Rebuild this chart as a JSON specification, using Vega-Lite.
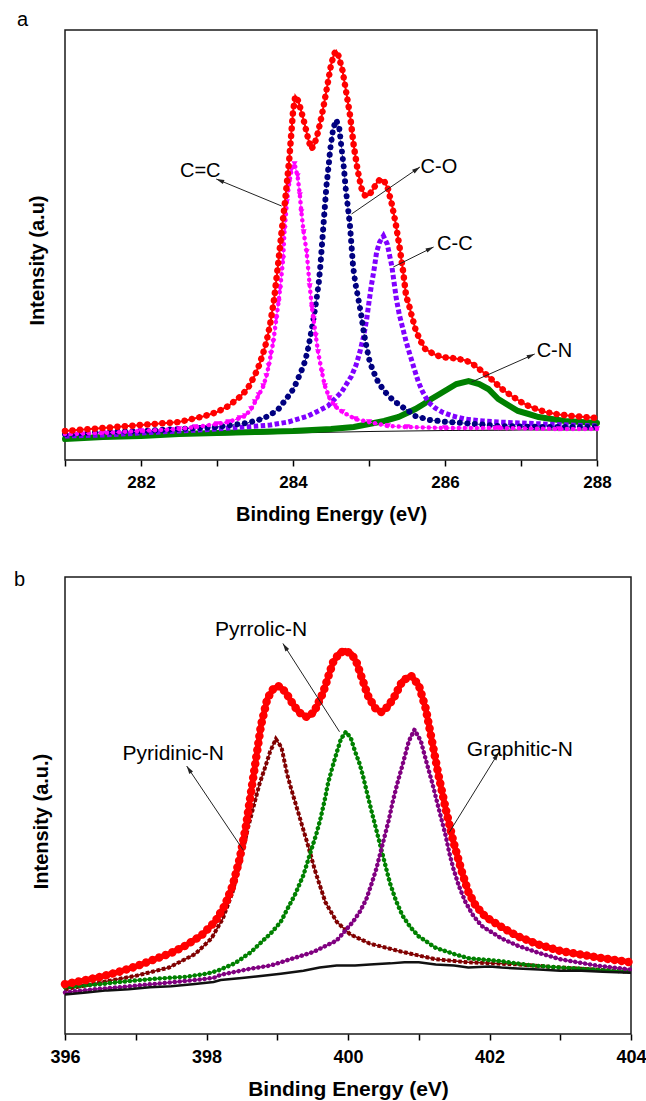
{
"$schema":"https://vega.github.io/schema/vega-lite/v6.json",
"background":"white",
"padding":{"left":13,"top":9,"right":5,"bottom":0},
"spacing":43,
"config":{"view":{"stroke":"#1a1a1a","strokeWidth":1.5},"axis":{"grid":false},"font":"Liberation Sans"},
"datasets":{
"A":[
{"s":"base","x":281,"y":23},{"s":"base","x":282,"y":24},{"s":"base","x":283,"y":25},{"s":"base","x":284,"y":27},{"s":"base","x":285,"y":28.5},{"s":"base","x":286,"y":29.5},{"s":"base","x":287,"y":30},{"s":"base","x":288,"y":30},
{"s":"CN","x":281,"y":21},{"s":"CN","x":281.5,"y":23},{"s":"CN","x":282,"y":24},{"s":"CN","x":282.5,"y":26},{"s":"CN","x":283,"y":27},{"s":"CN","x":283.5,"y":28},{"s":"CN","x":284,"y":29},{"s":"CN","x":284.5,"y":31},{"s":"CN","x":284.8,"y":33},{"s":"CN","x":285,"y":36},{"s":"CN","x":285.2,"y":39},{"s":"CN","x":285.39,"y":43},{"s":"CN","x":285.5,"y":47},{"s":"CN","x":285.61,"y":51},{"s":"CN","x":285.72,"y":56},{"s":"CN","x":285.82,"y":61},{"s":"CN","x":285.93,"y":66},{"s":"CN","x":286.04,"y":71},{"s":"CN","x":286.15,"y":76},{"s":"CN","x":286.31,"y":79},{"s":"CN","x":286.45,"y":76},{"s":"CN","x":286.57,"y":71},{"s":"CN","x":286.7,"y":61},{"s":"CN","x":286.85,"y":54},{"s":"CN","x":286.96,"y":49},{"s":"CN","x":287.1,"y":46},{"s":"CN","x":287.23,"y":43},{"s":"CN","x":287.58,"y":39},{"s":"CN","x":288,"y":37},
{"s":"CC","x":281,"y":24},{"s":"CC","x":281.5,"y":25},{"s":"CC","x":282,"y":27},{"s":"CC","x":282.5,"y":29},{"s":"CC","x":283,"y":31},{"s":"CC","x":283.37,"y":33},{"s":"CC","x":283.7,"y":35},{"s":"CC","x":283.94,"y":38},{"s":"CC","x":284.2,"y":44},{"s":"CC","x":284.46,"y":54},{"s":"CC","x":284.64,"y":68},{"s":"CC","x":284.77,"y":84},{"s":"CC","x":284.83,"y":95},{"s":"CC","x":284.88,"y":108},{"s":"CC","x":284.93,"y":124},{"s":"CC","x":284.97,"y":141},{"s":"CC","x":285,"y":158},{"s":"CC","x":285.03,"y":174},{"s":"CC","x":285.07,"y":192},{"s":"CC","x":285.1,"y":208},{"s":"CC","x":285.14,"y":218},{"s":"CC","x":285.19,"y":224},{"s":"CC","x":285.24,"y":216},{"s":"CC","x":285.3,"y":194},{"s":"CC","x":285.36,"y":161},{"s":"CC","x":285.4,"y":145},{"s":"CC","x":285.45,"y":130},{"s":"CC","x":285.49,"y":118},{"s":"CC","x":285.52,"y":110},{"s":"CC","x":285.56,"y":100},{"s":"CC","x":285.6,"y":90},{"s":"CC","x":285.65,"y":78},{"s":"CC","x":285.7,"y":69},{"s":"CC","x":285.78,"y":58},{"s":"CC","x":285.87,"y":52},{"s":"CC","x":285.96,"y":48},{"s":"CC","x":286.1,"y":44},{"s":"CC","x":286.26,"y":41},{"s":"CC","x":286.5,"y":39},{"s":"CC","x":286.7,"y":38},{"s":"CC","x":287.3,"y":36},{"s":"CC","x":288,"y":34},
{"s":"CO","x":281,"y":26},{"s":"CO","x":281.5,"y":28},{"s":"CO","x":282,"y":29},{"s":"CO","x":282.5,"y":31},{"s":"CO","x":283,"y":33},{"s":"CO","x":283.4,"y":37},{"s":"CO","x":283.59,"y":41},{"s":"CO","x":283.7,"y":45},{"s":"CO","x":283.81,"y":51},{"s":"CO","x":283.9,"y":60},{"s":"CO","x":283.98,"y":68},{"s":"CO","x":284.03,"y":75},{"s":"CO","x":284.07,"y":82},{"s":"CO","x":284.11,"y":89},{"s":"CO","x":284.16,"y":99},{"s":"CO","x":284.2,"y":112},{"s":"CO","x":284.24,"y":128},{"s":"CO","x":284.28,"y":146},{"s":"CO","x":284.31,"y":161},{"s":"CO","x":284.34,"y":178},{"s":"CO","x":284.36,"y":194},{"s":"CO","x":284.38,"y":214},{"s":"CO","x":284.4,"y":234},{"s":"CO","x":284.42,"y":254},{"s":"CO","x":284.44,"y":274},{"s":"CO","x":284.47,"y":295},{"s":"CO","x":284.49,"y":311},{"s":"CO","x":284.53,"y":332},{"s":"CO","x":284.57,"y":340},{"s":"CO","x":284.61,"y":331},{"s":"CO","x":284.64,"y":311},{"s":"CO","x":284.67,"y":292},{"s":"CO","x":284.69,"y":274},{"s":"CO","x":284.72,"y":254},{"s":"CO","x":284.75,"y":234},{"s":"CO","x":284.77,"y":214},{"s":"CO","x":284.79,"y":194},{"s":"CO","x":284.82,"y":177},{"s":"CO","x":284.86,"y":161},{"s":"CO","x":284.9,"y":144},{"s":"CO","x":284.93,"y":128},{"s":"CO","x":284.97,"y":112},{"s":"CO","x":285.01,"y":98},{"s":"CO","x":285.06,"y":88},{"s":"CO","x":285.12,"y":78},{"s":"CO","x":285.2,"y":69},{"s":"CO","x":285.3,"y":61},{"s":"CO","x":285.4,"y":55},{"s":"CO","x":285.52,"y":49},{"s":"CO","x":285.61,"y":44},{"s":"CO","x":285.8,"y":40},{"s":"CO","x":286.04,"y":38},{"s":"CO","x":286.4,"y":36},{"s":"CO","x":286.7,"y":34},{"s":"CO","x":287.3,"y":33},{"s":"CO","x":288,"y":33},
{"s":"CeC","x":281,"y":26},{"s":"CeC","x":281.5,"y":27},{"s":"CeC","x":282,"y":29},{"s":"CeC","x":282.5,"y":31},{"s":"CeC","x":282.71,"y":33},{"s":"CeC","x":283,"y":36},{"s":"CeC","x":283.15,"y":38},{"s":"CeC","x":283.3,"y":42},{"s":"CeC","x":283.37,"y":44},{"s":"CeC","x":283.45,"y":51},{"s":"CeC","x":283.5,"y":58},{"s":"CeC","x":283.55,"y":65},{"s":"CeC","x":283.61,"y":74},{"s":"CeC","x":283.65,"y":84},{"s":"CeC","x":283.68,"y":94},{"s":"CeC","x":283.71,"y":106},{"s":"CeC","x":283.74,"y":118},{"s":"CeC","x":283.78,"y":141},{"s":"CeC","x":283.81,"y":158},{"s":"CeC","x":283.83,"y":171},{"s":"CeC","x":283.87,"y":201},{"s":"CeC","x":283.89,"y":231},{"s":"CeC","x":283.92,"y":258},{"s":"CeC","x":283.95,"y":277},{"s":"CeC","x":283.98,"y":290},{"s":"CeC","x":284.02,"y":296},{"s":"CeC","x":284.06,"y":284},{"s":"CeC","x":284.09,"y":265},{"s":"CeC","x":284.11,"y":248},{"s":"CeC","x":284.14,"y":228},{"s":"CeC","x":284.18,"y":208},{"s":"CeC","x":284.22,"y":174},{"s":"CeC","x":284.25,"y":152},{"s":"CeC","x":284.27,"y":141},{"s":"CeC","x":284.3,"y":124},{"s":"CeC","x":284.33,"y":108},{"s":"CeC","x":284.38,"y":88},{"s":"CeC","x":284.42,"y":74},{"s":"CeC","x":284.48,"y":62},{"s":"CeC","x":284.55,"y":54},{"s":"CeC","x":284.65,"y":48},{"s":"CeC","x":284.82,"y":41},{"s":"CeC","x":285,"y":38},{"s":"CeC","x":285.25,"y":34},{"s":"CeC","x":285.5,"y":33},{"s":"CeC","x":286,"y":32},{"s":"CeC","x":286.7,"y":32},{"s":"CeC","x":287.5,"y":31},{"s":"CeC","x":288,"y":31},
{"s":"sum","x":281,"y":29},{"s":"sum","x":281.5,"y":32},{"s":"sum","x":282,"y":35},{"s":"sum","x":282.5,"y":38},{"s":"sum","x":282.84,"y":44},{"s":"sum","x":283,"y":48},{"s":"sum","x":283.15,"y":54},{"s":"sum","x":283.3,"y":63},{"s":"sum","x":283.4,"y":71},{"s":"sum","x":283.5,"y":85},{"s":"sum","x":283.55,"y":94},{"s":"sum","x":283.6,"y":105},{"s":"sum","x":283.65,"y":118},{"s":"sum","x":283.7,"y":136},{"s":"sum","x":283.75,"y":160},{"s":"sum","x":283.8,"y":193},{"s":"sum","x":283.85,"y":228},{"s":"sum","x":283.9,"y":262},{"s":"sum","x":283.95,"y":300},{"s":"sum","x":284,"y":348},{"s":"sum","x":284.03,"y":364},{"s":"sum","x":284.07,"y":359},{"s":"sum","x":284.1,"y":351},{"s":"sum","x":284.15,"y":337},{"s":"sum","x":284.2,"y":321},{"s":"sum","x":284.24,"y":311},{"s":"sum","x":284.28,"y":315},{"s":"sum","x":284.33,"y":328},{"s":"sum","x":284.38,"y":345},{"s":"sum","x":284.42,"y":361},{"s":"sum","x":284.46,"y":378},{"s":"sum","x":284.5,"y":395},{"s":"sum","x":284.54,"y":406},{"s":"sum","x":284.57,"y":409},{"s":"sum","x":284.6,"y":404},{"s":"sum","x":284.65,"y":390},{"s":"sum","x":284.7,"y":368},{"s":"sum","x":284.75,"y":345},{"s":"sum","x":284.8,"y":314},{"s":"sum","x":284.85,"y":290},{"s":"sum","x":284.9,"y":272},{"s":"sum","x":284.95,"y":264},{"s":"sum","x":285,"y":265},{"s":"sum","x":285.05,"y":270},{"s":"sum","x":285.1,"y":277},{"s":"sum","x":285.15,"y":281},{"s":"sum","x":285.2,"y":279},{"s":"sum","x":285.25,"y":271},{"s":"sum","x":285.3,"y":256},{"s":"sum","x":285.35,"y":237},{"s":"sum","x":285.4,"y":214},{"s":"sum","x":285.45,"y":188},{"s":"sum","x":285.49,"y":163},{"s":"sum","x":285.52,"y":157},{"s":"sum","x":285.56,"y":145},{"s":"sum","x":285.61,"y":131},{"s":"sum","x":285.67,"y":120},{"s":"sum","x":285.74,"y":111},{"s":"sum","x":285.85,"y":106},{"s":"sum","x":285.95,"y":103},{"s":"sum","x":286.1,"y":102},{"s":"sum","x":286.25,"y":100},{"s":"sum","x":286.35,"y":97},{"s":"sum","x":286.45,"y":91},{"s":"sum","x":286.55,"y":85},{"s":"sum","x":286.65,"y":78},{"s":"sum","x":286.75,"y":71},{"s":"sum","x":286.88,"y":64},{"s":"sum","x":287,"y":58},{"s":"sum","x":287.1,"y":54},{"s":"sum","x":287.2,"y":51},{"s":"sum","x":287.32,"y":48},{"s":"sum","x":287.5,"y":45.5},{"s":"sum","x":287.67,"y":44},{"s":"sum","x":288,"y":42}
],
"arrA":[
{"k":"C=C","x":283.85,"y":254,"x2":282.99,"y2":281},
{"k":"C-O","x":284.77,"y":246,"x2":285.67,"y2":293},
{"k":"C-C","x":285.32,"y":193,"x2":285.85,"y2":213},
{"k":"C-N","x":286.35,"y":78,"x2":287.18,"y2":106}
],
"headA":[
{"k":"C=C","x":282.99,"y":281},
{"k":"C-O","x":285.67,"y":293},
{"k":"C-C","x":285.85,"y":213},
{"k":"C-N","x":287.18,"y":106}
],
"labA":[
{"t":"C=C","x":282.78,"y":289},
{"t":"C-O","x":285.92,"y":293},
{"t":"C-C","x":286.13,"y":216},
{"t":"C-N","x":287.44,"y":109}
],
"B":[
{"s":"pyd","x":396,"y":43},{"s":"pyd","x":396.53,"y":50},{"s":"pyd","x":397,"y":56},{"s":"pyd","x":397.47,"y":64},{"s":"pyd","x":397.84,"y":77},{"s":"pyd","x":398.07,"y":92},{"s":"pyd","x":398.23,"y":111},{"s":"pyd","x":398.37,"y":137},{"s":"pyd","x":398.49,"y":169},{"s":"pyd","x":398.58,"y":197},{"s":"pyd","x":398.68,"y":223},{"s":"pyd","x":398.75,"y":241},{"s":"pyd","x":398.82,"y":255},{"s":"pyd","x":398.9,"y":272},{"s":"pyd","x":398.98,"y":284},{"s":"pyd","x":399.06,"y":276},{"s":"pyd","x":399.14,"y":250},{"s":"pyd","x":399.21,"y":233},{"s":"pyd","x":399.28,"y":217},{"s":"pyd","x":399.35,"y":201},{"s":"pyd","x":399.42,"y":185},{"s":"pyd","x":399.54,"y":156},{"s":"pyd","x":399.68,"y":127},{"s":"pyd","x":399.84,"y":108},{"s":"pyd","x":400.03,"y":96},{"s":"pyd","x":400.31,"y":87},{"s":"pyd","x":400.77,"y":79},{"s":"pyd","x":401.24,"y":72},{"s":"pyd","x":401.7,"y":69},{"s":"pyd","x":402.4,"y":67},{"s":"pyd","x":403,"y":64},{"s":"pyd","x":403.5,"y":62},{"s":"pyd","x":404,"y":60},
{"s":"pyr","x":396,"y":45},{"s":"pyr","x":396.5,"y":48},{"s":"pyr","x":396.77,"y":50},{"s":"pyr","x":397.23,"y":53},{"s":"pyr","x":397.7,"y":55},{"s":"pyr","x":398,"y":58},{"s":"pyr","x":398.16,"y":61},{"s":"pyr","x":398.4,"y":68},{"s":"pyr","x":398.63,"y":79},{"s":"pyr","x":398.8,"y":90},{"s":"pyr","x":398.91,"y":97},{"s":"pyr","x":399.05,"y":108},{"s":"pyr","x":399.14,"y":120},{"s":"pyr","x":399.25,"y":134},{"s":"pyr","x":399.37,"y":153},{"s":"pyr","x":399.47,"y":175},{"s":"pyr","x":399.55,"y":192},{"s":"pyr","x":399.61,"y":207},{"s":"pyr","x":399.67,"y":225},{"s":"pyr","x":399.72,"y":242},{"s":"pyr","x":399.78,"y":257},{"s":"pyr","x":399.84,"y":271},{"s":"pyr","x":399.9,"y":284},{"s":"pyr","x":399.97,"y":291},{"s":"pyr","x":400.04,"y":285},{"s":"pyr","x":400.1,"y":272},{"s":"pyr","x":400.16,"y":261},{"s":"pyr","x":400.21,"y":249},{"s":"pyr","x":400.28,"y":229},{"s":"pyr","x":400.35,"y":210},{"s":"pyr","x":400.41,"y":194},{"s":"pyr","x":400.47,"y":178},{"s":"pyr","x":400.53,"y":162},{"s":"pyr","x":400.59,"y":146},{"s":"pyr","x":400.68,"y":128},{"s":"pyr","x":400.77,"y":114},{"s":"pyr","x":400.88,"y":103},{"s":"pyr","x":401,"y":94},{"s":"pyr","x":401.24,"y":83},{"s":"pyr","x":401.5,"y":77},{"s":"pyr","x":401.7,"y":73},{"s":"pyr","x":402.17,"y":70},{"s":"pyr","x":402.6,"y":66},{"s":"pyr","x":403,"y":64},{"s":"pyr","x":403.5,"y":62},{"s":"pyr","x":404,"y":60},
{"s":"gra","x":396,"y":40},{"s":"gra","x":396.4,"y":43},{"s":"gra","x":396.77,"y":45},{"s":"gra","x":397.23,"y":48},{"s":"gra","x":397.7,"y":51},{"s":"gra","x":398.1,"y":54},{"s":"gra","x":398.2,"y":57},{"s":"gra","x":398.63,"y":63},{"s":"gra","x":398.91,"y":66},{"s":"gra","x":399.14,"y":71},{"s":"gra","x":399.51,"y":79},{"s":"gra","x":399.84,"y":90},{"s":"gra","x":400.07,"y":108},{"s":"gra","x":400.17,"y":118},{"s":"gra","x":400.26,"y":130},{"s":"gra","x":400.33,"y":144},{"s":"gra","x":400.4,"y":159},{"s":"gra","x":400.46,"y":175},{"s":"gra","x":400.52,"y":191},{"s":"gra","x":400.58,"y":207},{"s":"gra","x":400.63,"y":223},{"s":"gra","x":400.7,"y":242},{"s":"gra","x":400.77,"y":259},{"s":"gra","x":400.86,"y":282},{"s":"gra","x":400.94,"y":293},{"s":"gra","x":401.03,"y":282},{"s":"gra","x":401.12,"y":259},{"s":"gra","x":401.19,"y":242},{"s":"gra","x":401.26,"y":223},{"s":"gra","x":401.32,"y":207},{"s":"gra","x":401.38,"y":191},{"s":"gra","x":401.43,"y":175},{"s":"gra","x":401.49,"y":159},{"s":"gra","x":401.57,"y":142},{"s":"gra","x":401.66,"y":127},{"s":"gra","x":401.77,"y":114},{"s":"gra","x":401.89,"y":104},{"s":"gra","x":402.17,"y":92},{"s":"gra","x":402.4,"y":85},{"s":"gra","x":402.7,"y":78},{"s":"gra","x":403,"y":72},{"s":"gra","x":403.5,"y":66},{"s":"gra","x":404,"y":62},
{"s":"base","x":396,"y":38},{"s":"base","x":396.3,"y":40},{"s":"base","x":396.6,"y":42},{"s":"base","x":396.9,"y":43},{"s":"base","x":397.2,"y":45},{"s":"base","x":397.5,"y":46},{"s":"base","x":397.8,"y":48},{"s":"base","x":398.1,"y":50},{"s":"base","x":398.2,"y":52},{"s":"base","x":398.5,"y":54},{"s":"base","x":398.8,"y":56},{"s":"base","x":399.05,"y":58},{"s":"base","x":399.37,"y":61},{"s":"base","x":399.6,"y":64},{"s":"base","x":399.84,"y":66},{"s":"base","x":400.1,"y":66},{"s":"base","x":400.31,"y":67},{"s":"base","x":400.6,"y":68},{"s":"base","x":400.8,"y":69},{"s":"base","x":401,"y":69},{"s":"base","x":401.24,"y":67},{"s":"base","x":401.5,"y":66},{"s":"base","x":401.7,"y":64},{"s":"base","x":402,"y":65},{"s":"base","x":402.17,"y":64},{"s":"base","x":402.4,"y":63},{"s":"base","x":402.7,"y":62},{"s":"base","x":403,"y":61},{"s":"base","x":403.3,"y":61},{"s":"base","x":403.6,"y":60},{"s":"base","x":404,"y":59},
{"s":"sum","x":396,"y":48},{"s":"sum","x":396.3,"y":52},{"s":"sum","x":396.5,"y":55},{"s":"sum","x":396.77,"y":60},{"s":"sum","x":397,"y":65},{"s":"sum","x":397.23,"y":71},{"s":"sum","x":397.5,"y":78},{"s":"sum","x":397.7,"y":85},{"s":"sum","x":397.93,"y":95},{"s":"sum","x":398.12,"y":108},{"s":"sum","x":398.26,"y":124},{"s":"sum","x":398.37,"y":143},{"s":"sum","x":398.47,"y":169},{"s":"sum","x":398.56,"y":201},{"s":"sum","x":398.63,"y":233},{"s":"sum","x":398.7,"y":265},{"s":"sum","x":398.77,"y":297},{"s":"sum","x":398.86,"y":323},{"s":"sum","x":398.95,"y":333},{"s":"sum","x":399.03,"y":335},{"s":"sum","x":399.12,"y":329},{"s":"sum","x":399.19,"y":321},{"s":"sum","x":399.3,"y":310},{"s":"sum","x":399.42,"y":305},{"s":"sum","x":399.52,"y":310},{"s":"sum","x":399.65,"y":329},{"s":"sum","x":399.72,"y":344},{"s":"sum","x":399.79,"y":358},{"s":"sum","x":399.88,"y":367},{"s":"sum","x":399.96,"y":369},{"s":"sum","x":400.05,"y":366},{"s":"sum","x":400.12,"y":358},{"s":"sum","x":400.2,"y":342},{"s":"sum","x":400.28,"y":326},{"s":"sum","x":400.38,"y":314},{"s":"sum","x":400.47,"y":310},{"s":"sum","x":400.56,"y":315},{"s":"sum","x":400.65,"y":324},{"s":"sum","x":400.77,"y":340},{"s":"sum","x":400.89,"y":345},{"s":"sum","x":401,"y":336},{"s":"sum","x":401.1,"y":313},{"s":"sum","x":401.19,"y":281},{"s":"sum","x":401.28,"y":249},{"s":"sum","x":401.38,"y":217},{"s":"sum","x":401.49,"y":185},{"s":"sum","x":401.61,"y":156},{"s":"sum","x":401.7,"y":137},{"s":"sum","x":401.8,"y":124},{"s":"sum","x":401.94,"y":113},{"s":"sum","x":402.17,"y":103},{"s":"sum","x":402.4,"y":94},{"s":"sum","x":402.7,"y":86},{"s":"sum","x":403,"y":80},{"s":"sum","x":403.5,"y":74},{"s":"sum","x":404,"y":69}
],
"arrB":[
{"k":"Pyrrolic-N","x":399.88,"y":291,"x2":399.08,"y2":376},
{"k":"Pyridinic-N","x":398.52,"y":177,"x2":397.72,"y2":258},
{"k":"Graphitic-N","x":401.43,"y":194,"x2":402.13,"y2":271}
],
"headB":[
{"k":"Pyrrolic-N","x":399.08,"y":376},
{"k":"Pyridinic-N","x":397.72,"y":258},
{"k":"Graphitic-N","x":402.13,"y":271}
],
"labB":[
{"t":"Pyrrolic-N","x":398.77,"y":389},
{"t":"Pyridinic-N","x":397.53,"y":270},
{"t":"Graphitic-N","x":402.43,"y":273}
]
},
"vconcat":[
{
"width":532,"height":430,
"title":{"text":"a","anchor":"start","frame":"group","fontSize":20,"fontWeight":"normal","font":"Liberation Sans","color":"black","dx":-48,"dy":19,"offset":3,"baseline":"alphabetic"},
"encoding":{
"x":{"field":"x","type":"quantitative","scale":{"domain":[281,288],"nice":false,"zero":false},
"axis":{"title":"Binding Energy (eV)","values":[281,282,283,284,285,286,287,288],"labelExpr":"datum.value % 2 == 0 ? datum.label : ''","labelOverlap":false,"labelFlush":false,"domain":false,"tickSize":6,"tickWidth":1.5,"tickColor":"black","labelFont":"Liberation Sans","labelFontSize":17,"labelFontWeight":"bold","labelColor":"black","labelPadding":8,"titleFont":"Liberation Sans","titleFontSize":20,"titleFontWeight":"bold","titleColor":"black","titlePadding":14}},
"y":{"field":"y","type":"quantitative","scale":{"domain":[0,430],"nice":false,"zero":false},
"axis":{"title":"Intensity (a.u)","ticks":false,"labels":false,"domain":false,"titleFont":"Liberation Sans","titleFontSize":20,"titleFontWeight":"bold","titleColor":"black","titlePadding":18,"titleY":230}}
},
"layer":[
{"data":{"name":"A"},"transform":[{"filter":"datum.s=='base'"}],"mark":{"type":"line","color":"#111111","strokeWidth":1.2}},
{"data":{"name":"A"},"transform":[{"filter":"datum.s=='CN'"}],"mark":{"type":"line","color":"#008000","strokeWidth":6,"strokeCap":"round"}},
{"data":{"name":"A"},"transform":[{"filter":"datum.s=='CC'"}],"mark":{"type":"line","color":"#8000ff","strokeWidth":5,"strokeDash":[4.5,2.5]}},
{"data":{"name":"A"},"transform":[{"filter":"datum.s=='CO'"}],"mark":{"type":"line","color":"#000080","strokeWidth":1,"strokeDash":[1.5,1.5]}},
{"data":{"name":"A"},"transform":[{"filter":"datum.s=='CO'"}],"mark":{"type":"line","color":"#000080","strokeWidth":6,"strokeDash":[0.01,7.5],"strokeCap":"round"}},
{"data":{"name":"A"},"transform":[{"filter":"datum.s=='CeC'"}],"mark":{"type":"line","color":"#ff00ff","strokeWidth":1,"strokeDash":[1.5,1.5]}},
{"data":{"name":"A"},"transform":[{"filter":"datum.s=='CeC'"}],"mark":{"type":"line","color":"#ff00ff","strokeWidth":4.5,"strokeDash":[0.01,6],"strokeCap":"round"}},
{"data":{"name":"A"},"transform":[{"filter":"datum.s=='CeC'"}],"mark":{"type":"point","shape":"triangle-down","filled":true,"color":"#ff00ff","size":38,"opacity":1,"strokeWidth":0}},
{"data":{"name":"A"},"transform":[{"filter":"datum.s=='sum'"}],"mark":{"type":"line","color":"#ff0000","strokeWidth":2}},
{"data":{"name":"A"},"transform":[{"filter":"datum.s=='sum'"}],"mark":{"type":"line","color":"#ff0000","strokeWidth":6.5,"strokeDash":[0.01,7.5],"strokeCap":"round"}},
{"data":{"name":"arrA"},"mark":{"type":"rule","color":"#222222","strokeWidth":1},"encoding":{"x2":{"field":"x2"},"y2":{"field":"y2"}}},
{"data":{"name":"headA"},"transform":[{"filter":"datum.k=='C=C'"}],"mark":{"type":"point","shape":"M0,0L0.45,1.6L-0.45,1.6Z","filled":true,"color":"#222222","size":100,"angle":292,"opacity":1,"strokeWidth":0}},
{"data":{"name":"headA"},"transform":[{"filter":"datum.k=='C-O'"}],"mark":{"type":"point","shape":"M0,0L0.45,1.6L-0.45,1.6Z","filled":true,"color":"#222222","size":100,"angle":55,"opacity":1,"strokeWidth":0}},
{"data":{"name":"headA"},"transform":[{"filter":"datum.k=='C-C'"}],"mark":{"type":"point","shape":"M0,0L0.45,1.6L-0.45,1.6Z","filled":true,"color":"#222222","size":100,"angle":64,"opacity":1,"strokeWidth":0}},
{"data":{"name":"headA"},"transform":[{"filter":"datum.k=='C-N'"}],"mark":{"type":"point","shape":"M0,0L0.45,1.6L-0.45,1.6Z","filled":true,"color":"#222222","size":100,"angle":66,"opacity":1,"strokeWidth":0}},
{"data":{"name":"labA"},"mark":{"type":"text","font":"Liberation Sans","fontSize":20,"color":"black","align":"center","baseline":"middle"},"encoding":{"text":{"field":"t"}}}
]
},
{
"width":566,"height":457,
"title":{"text":"b","anchor":"start","frame":"group","fontSize":20,"fontWeight":"normal","font":"Liberation Sans","color":"black","dx":-51,"dy":28.5,"offset":0,"baseline":"alphabetic"},
"encoding":{
"x":{"field":"x","type":"quantitative","scale":{"domain":[396,404],"nice":false,"zero":false},
"axis":{"title":"Binding Energy (eV)","values":[396,397,398,399,400,401,402,403,404],"labelExpr":"datum.value % 2 == 0 ? datum.label : ''","labelOverlap":false,"labelFlush":false,"domain":false,"tickSize":6,"tickWidth":1.5,"tickColor":"black","labelFont":"Liberation Sans","labelFontSize":18,"labelFontWeight":"bold","labelColor":"black","labelPadding":8,"titleFont":"Liberation Sans","titleFontSize":21,"titleFontWeight":"bold","titleColor":"black","titlePadding":12}},
"y":{"field":"y","type":"quantitative","scale":{"domain":[0,440],"nice":false,"zero":false},
"axis":{"title":"Intensity (a.u.)","ticks":false,"labels":false,"domain":false,"titleFont":"Liberation Sans","titleFontSize":20,"titleFontWeight":"bold","titleColor":"black","titlePadding":14,"titleY":244}}
},
"layer":[
{"data":{"name":"B"},"transform":[{"filter":"datum.s=='pyd'"}],"mark":{"type":"line","color":"#800000","strokeWidth":1.5}},
{"data":{"name":"B"},"transform":[{"filter":"datum.s=='pyd'"}],"mark":{"type":"line","color":"#800000","strokeWidth":4,"strokeDash":[3.5,2]}},
{"data":{"name":"B"},"transform":[{"filter":"datum.s=='pyr'"}],"mark":{"type":"line","color":"#008000","strokeWidth":1.5}},
{"data":{"name":"B"},"transform":[{"filter":"datum.s=='pyr'"}],"mark":{"type":"line","color":"#008000","strokeWidth":4.5,"strokeDash":[0.01,5],"strokeCap":"round"}},
{"data":{"name":"B"},"transform":[{"filter":"datum.s=='gra'"}],"mark":{"type":"line","color":"#800080","strokeWidth":1.5}},
{"data":{"name":"B"},"transform":[{"filter":"datum.s=='gra'"}],"mark":{"type":"line","color":"#800080","strokeWidth":4.5,"strokeDash":[0.01,5],"strokeCap":"round"}},
{"data":{"name":"B"},"transform":[{"filter":"datum.s=='base'"}],"mark":{"type":"line","color":"#111111","strokeWidth":2.5}},
{"data":{"name":"B"},"transform":[{"filter":"datum.s=='sum'"}],"mark":{"type":"line","color":"#ff0000","strokeWidth":5.5}},
{"data":{"name":"B"},"transform":[{"filter":"datum.s=='sum'"}],"mark":{"type":"line","color":"#ff0000","strokeWidth":8.5,"strokeDash":[0.01,7],"strokeCap":"round"}},
{"data":{"name":"arrB"},"mark":{"type":"rule","color":"#222222","strokeWidth":1},"encoding":{"x2":{"field":"x2"},"y2":{"field":"y2"}}},
{"data":{"name":"headB"},"transform":[{"filter":"datum.k=='Pyrrolic-N'"}],"mark":{"type":"point","shape":"M0,0L0.45,1.6L-0.45,1.6Z","filled":true,"color":"#222222","size":100,"angle":327,"opacity":1,"strokeWidth":0}},
{"data":{"name":"headB"},"transform":[{"filter":"datum.k=='Pyridinic-N'"}],"mark":{"type":"point","shape":"M0,0L0.45,1.6L-0.45,1.6Z","filled":true,"color":"#222222","size":100,"angle":326,"opacity":1,"strokeWidth":0}},
{"data":{"name":"headB"},"transform":[{"filter":"datum.k=='Graphitic-N'"}],"mark":{"type":"point","shape":"M0,0L0.45,1.6L-0.45,1.6Z","filled":true,"color":"#222222","size":100,"angle":32,"opacity":1,"strokeWidth":0}},
{"data":{"name":"labB"},"mark":{"type":"text","font":"Liberation Sans","fontSize":21,"color":"black","align":"center","baseline":"middle"},"encoding":{"text":{"field":"t"}}}
]
}
]
}
